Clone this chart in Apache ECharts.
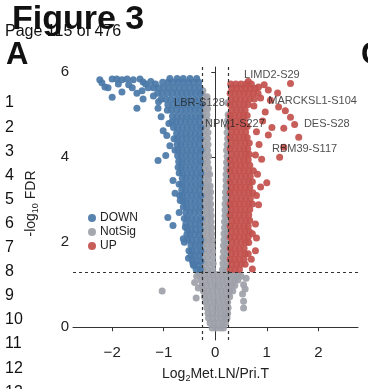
<!DOCTYPE html>
<html><head><meta charset="utf-8">
<script src="https://cdn.jsdelivr.net/npm/echarts@6/dist/echarts.min.js"></script>
<style>html,body{margin:0;padding:0;background:#fff}#c{width:368px;height:389px}</style>
</head><body><div id="c"></div>
<script>
// ---- axis ticks and thresholds ----
const xTicks = [-2, -1, 0, 1, 2];
const yTicks = [0, 2, 4, 6];
const fcCut = 0.263;      // log2(1.2)
const fdrCut = 1.301;     // -log10(0.05)

// ---- DOWN: dense band, rows of [y, x1, x2, ...] ----
const downRows = [
 [1.36,-0.29,-0.37],[1.45,-0.33,-0.42],[1.55,-0.28,-0.37,-0.44],[1.68,-0.31,-0.40,-0.47],
 [1.80,-0.28,-0.37,-0.46,-0.51],[1.93,-0.30,-0.39,-0.47],[2.05,-0.28,-0.37,-0.46,-0.53],
 [2.18,-0.31,-0.40,-0.49,-0.55],[2.30,-0.29,-0.38,-0.47,-0.54],[2.43,-0.30,-0.39,-0.48,-0.57],
 [2.56,-0.28,-0.37,-0.46,-0.55,-0.60],[2.70,-0.31,-0.40,-0.49,-0.57],[2.83,-0.29,-0.38,-0.47,-0.56,-0.62],
 [2.96,-0.30,-0.39,-0.48,-0.57,-0.63],[3.10,-0.28,-0.37,-0.46,-0.55,-0.64,-0.69],
 [3.23,-0.31,-0.40,-0.49,-0.58,-0.65],[3.36,-0.29,-0.38,-0.47,-0.56,-0.65,-0.70],
 [3.50,-0.30,-0.39,-0.48,-0.57,-0.64],[3.63,-0.28,-0.37,-0.46,-0.55,-0.64,-0.70],
 [3.76,-0.31,-0.40,-0.49,-0.58,-0.66,-0.72],[3.90,-0.29,-0.38,-0.47,-0.56,-0.65,-0.71],
 [4.03,-0.30,-0.39,-0.48,-0.57,-0.66,-0.73],[4.16,-0.28,-0.37,-0.46,-0.55,-0.64,-0.72,-0.78],
 [4.30,-0.31,-0.40,-0.49,-0.58,-0.67,-0.74],[4.43,-0.29,-0.38,-0.47,-0.56,-0.65,-0.74,-0.80],
 [4.56,-0.30,-0.39,-0.48,-0.57,-0.66,-0.75],[4.70,-0.28,-0.37,-0.46,-0.55,-0.64,-0.73,-0.81],
 [4.83,-0.31,-0.40,-0.49,-0.58,-0.67,-0.76,-0.84],[4.96,-0.29,-0.38,-0.47,-0.56,-0.65,-0.74,-0.83],
 [5.10,-0.30,-0.39,-0.48,-0.57,-0.66,-0.75,-0.85,-0.93],[5.23,-0.28,-0.37,-0.46,-0.55,-0.64,-0.73,-0.82,-0.92],
 [5.36,-0.31,-0.40,-0.49,-0.58,-0.67,-0.76,-0.86,-0.96,-1.05],
 [5.50,-0.29,-0.38,-0.47,-0.56,-0.65,-0.74,-0.83,-0.93,-1.03,-1.12],
 [5.63,-0.30,-0.40,-0.50,-0.60,-0.70,-0.80,-0.90,-1.00,-1.10,-1.20],
 [5.76,-0.32,-0.42,-0.52,-0.62,-0.72,-0.82,-0.92,-1.02],
 [5.85,-0.36,-0.49,-0.62,-0.74,-0.88]
];
// ---- DOWN: scattered points [x, y] ----
const downScatter = [
 [-2.24,5.82],[-2.00,5.84],[-1.91,5.84],[-1.81,5.82],[-1.71,5.84],[-1.59,5.82],[-1.46,5.84],[-1.40,5.77],
 [-2.14,5.65],[-2.08,5.63],[-1.81,5.53],[-2.00,5.41],[-1.61,5.63],[-1.42,5.56],[-1.30,5.63],[-1.16,5.72],
 [-1.20,5.44],[-1.40,5.37],[-1.52,5.50],[-1.52,5.15],[-1.11,5.15],[-1.01,4.62],[-0.90,4.79],[-0.96,4.04],
 [-1.11,3.92],[-0.94,4.51],[-0.88,4.27],[-0.82,3.45],[-0.68,2.98],[-0.78,3.15],[-0.92,2.58],[-0.82,2.39],
 [-0.62,2.08],[-0.60,2.00],[-0.43,1.49],[-0.52,1.62],[-0.58,2.35],[-0.70,2.70],[-1.25,5.78],[-1.35,5.72],
 [-1.68,5.70],[-1.88,5.72],[-2.20,5.75],[-1.10,5.30],[-1.05,4.95]
];

// ---- NotSig: rows [y, x1, x2, ...] ----
const notSigRows = [
 [-0.02,-0.06,0.02,0.10,0.16],[0.10,-0.10,-0.02,0.06,0.14,0.20],[0.22,-0.13,-0.05,0.03,0.11,0.19,0.23],
 [0.33,-0.14,-0.06,0.03,0.11,0.19,0.24],[0.46,-0.16,-0.07,0.02,0.10,0.18,0.25],
 [0.59,-0.19,-0.10,-0.01,0.08,0.16,0.24],[0.72,-0.21,-0.12,-0.03,0.06,0.14,0.22,0.28],
 [0.85,-0.23,-0.14,-0.05,0.04,0.12,0.20,0.28,0.34],[0.98,-0.26,-0.17,-0.08,0.00,0.08,0.16,0.24,0.32,0.38],
 [1.11,-0.28,-0.19,-0.10,-0.02,0.06,0.14,0.22,0.30,0.38,0.44],
 [1.24,-0.30,-0.21,-0.12,-0.04,0.04,0.12,0.20,0.28,0.36,0.44],
 [1.36,-0.24,-0.15,-0.05,0.14,0.22],[1.50,-0.22,-0.13,-0.04,0.15,0.24],[1.64,-0.24,-0.15,-0.05,0.15,0.22],
 [1.78,-0.22,-0.13,-0.05,0.16,0.24],[1.92,-0.24,-0.15,-0.06,0.16,0.22],[2.06,-0.22,-0.13,-0.06,0.17,0.24],
 [2.20,-0.24,-0.15,-0.07,0.17,0.23],[2.34,-0.22,-0.14,-0.07,0.18,0.24],[2.48,-0.24,-0.16,-0.08,0.18,0.23],
 [2.62,-0.22,-0.14,-0.08,0.19,0.25],[2.76,-0.24,-0.16,-0.09,0.19,0.24],[2.90,-0.22,-0.14,-0.09,0.19,0.25],
 [3.04,-0.24,-0.16,-0.10,0.20,0.24],[3.18,-0.22,-0.14,-0.09,0.20,0.25],[3.32,-0.24,-0.16,-0.10,0.21,0.24],
 [3.46,-0.22,-0.13,0.21,0.25],[3.60,-0.24,-0.15,-0.11,0.21,0.24],[3.74,-0.22,-0.13,0.22,0.25],
 [3.88,-0.24,-0.15,0.22,0.24],[4.02,-0.22,-0.13,0.23],[4.16,-0.24,-0.15,0.22],[4.30,-0.22,-0.14,0.23],
 [4.44,-0.24,-0.15,0.24],[4.58,-0.22,-0.14,0.23],[4.72,-0.24,-0.16,0.24],[4.86,-0.22,-0.15,0.24],
 [5.00,-0.24,-0.16,0.25],[5.14,-0.22,-0.15],[5.28,-0.24,-0.17,0.24],[5.42,-0.22,-0.16],[5.56,-0.24]
];
const notSigScatter = [
 [-1.03,0.85],[-0.37,0.69],[-0.33,0.92],[0.55,1.00],[0.58,0.90],[0.53,0.78],[0.55,0.61],[0.55,0.45],
 [0.60,1.15],[0.50,1.20],[-0.36,1.20],[-0.40,1.05]
];

// ---- UP: rows [y, x1, x2, ...] ----
const upRows = [
 [1.36,0.29,0.38,0.47],[1.48,0.32,0.41,0.50,0.58],[1.60,0.29,0.38,0.47,0.56],[1.73,0.31,0.40,0.49,0.58,0.64],
 [1.86,0.29,0.38,0.47,0.56],[1.99,0.32,0.41,0.50,0.59,0.65],[2.12,0.29,0.38,0.47,0.56,0.64],
 [2.25,0.31,0.40,0.49,0.58,0.66],[2.38,0.29,0.38,0.47,0.56,0.64],[2.51,0.32,0.41,0.50,0.59,0.67],
 [2.64,0.29,0.38,0.47,0.56,0.65],[2.77,0.31,0.40,0.49,0.58,0.67],[2.90,0.29,0.38,0.47,0.56,0.65,0.72],
 [3.03,0.32,0.41,0.50,0.59,0.68],[3.16,0.29,0.38,0.47,0.56,0.65,0.73],[3.29,0.31,0.40,0.49,0.58,0.67],
 [3.42,0.29,0.38,0.47,0.56,0.65,0.72],[3.55,0.32,0.41,0.50,0.59,0.68],[3.68,0.29,0.38,0.47,0.56,0.65,0.74],
 [3.81,0.31,0.40,0.49,0.58,0.67],[3.94,0.29,0.38,0.47,0.56,0.64],[4.07,0.32,0.41,0.50,0.59,0.66],
 [4.20,0.29,0.38,0.47,0.56,0.63],[4.33,0.31,0.40,0.49,0.58,0.66],[4.46,0.29,0.38,0.47,0.56,0.62],
 [4.59,0.32,0.41,0.50,0.59],[4.72,0.29,0.38,0.47,0.56,0.62],[4.85,0.31,0.40,0.49,0.57],
 [4.98,0.29,0.38,0.47,0.55,0.62],[5.11,0.32,0.41,0.50,0.58],[5.24,0.29,0.38,0.47,0.56,0.64],
 [5.37,0.31,0.40,0.49,0.58,0.67,0.76],[5.50,0.29,0.38,0.47,0.56,0.65,0.74,0.83],
 [5.62,0.32,0.41,0.50,0.59,0.68,0.77],[5.72,0.30,0.40,0.50,0.60,0.70]
];
const upScatter = [
 [0.64,5.78],[0.84,5.65],[1.03,5.58],[1.21,5.51],[1.46,5.73],[0.88,5.39],[1.07,5.34],[1.23,5.18],
 [1.46,4.94],[1.36,5.09],[0.97,5.06],[1.33,4.68],[1.54,4.77],[1.62,4.47],[1.03,4.52],[1.10,4.70],
 [1.33,4.23],[1.25,4.00],[0.92,4.85],[0.85,4.30],[0.90,3.95],[0.82,3.60],[0.88,3.30],[1.00,3.40],
 [0.84,2.88],[0.78,2.43],[0.72,2.20],[0.78,1.80],[0.72,1.37],[0.95,5.70],[0.75,5.20],[0.80,4.60],
 [0.78,4.05],[0.80,3.10],[0.80,2.10],[0.70,1.60]
];

// ---- annotated sites ----
const siteNames = ['LIMD2-S29','LBR-S128','MARCKSL1-S104','NPM1-S227','DES-S28','RBM39-S117'];
const siteX = [0.56, -0.80, 1.03, -0.20, 1.72, 1.10];
const siteY = [5.94, 5.28, 5.31, 4.77, 4.79, 4.20];

const fromRows = rows => rows.flatMap(r => r.slice(1).map(x => [x, r[0]]));
const downData = fromRows(downRows).concat(downScatter);
const notSigData = fromRows(notSigRows).concat(notSigScatter);
const upData = fromRows(upRows).concat(upScatter);
const siteData = siteNames.map((n, i) => ({name: n, value: [siteX[i], siteY[i]]}));

const BLUE = '#4a78a8', RED = '#c2504c', GRAY = '#9ea1a9';
const FONT = 'Liberation Sans, Arial, sans-serif';

const lineNums = ['1','2','3','4','5','6','7','8','9','10','11','12','13'];
const graphics = [
  {type:'text', left:12, top:3, style:{text:'Figure 3', font:'bold 34px ' + FONT, fill:'#111'}},
  {type:'text', left:5, top:24, style:{text:'Page 115 of 476', font:'16px ' + FONT, fill:'#111'}},
  {type:'text', left:6, top:40, style:{text:'A', font:'bold 31px ' + FONT, fill:'#111'}},
  {type:'text', left:361, top:40, style:{text:'C', font:'bold 31px ' + FONT, fill:'#111'}}
];
lineNums.forEach((t, i) => graphics.push({type:'text', left:5, top: 95 + i * 24.1,
  style:{text:t, font:'16px ' + FONT, fill:'#111'}}));

const chart = echarts.init(document.getElementById('c'), null, {renderer:'canvas'});
chart.setOption({
  animation:false,
  backgroundColor:'#fff',
  textStyle:{fontFamily:FONT},
  grid:{left:73, right:10, top:67, bottom:49, outerBoundsMode:'none'},
  legend:{
    data:['DOWN','NotSig','UP'], orient:'vertical', left:88, top:212, padding:0,
    itemWidth:8, itemHeight:8, itemGap:2, icon:'circle',
    textStyle:{fontSize:12, color:'#222', padding:[0,0,0,-1]}
  },
  xAxis:{
    type:'value', min:-2.76, max:2.77,
    name:'Log{s|2}Met.LN/Pri.T', nameLocation:'middle', nameGap:26,
    nameTextStyle:{fontSize:14, color:'#222', rich:{s:{fontSize:9, verticalAlign:'bottom', padding:[8,0,0,0]}}},
    axisLine:{lineStyle:{color:'#333', width:1}},
    axisTick:{length:4, lineStyle:{color:'#333'}, customValues:xTicks},
    axisLabel:{fontSize:15, color:'#222', margin:5, customValues:xTicks,
      formatter:v => String(v).replace('-', '\u2212')},
    splitLine:{show:false}
  },
  yAxis:{
    type:'value', min:-0.3, max:6.12,
    name:'-log{s|10} FDR', nameLocation:'middle', nameGap:33, nameRotate:90,
    nameTextStyle:{fontSize:14, color:'#222', rich:{s:{fontSize:9, verticalAlign:'bottom', padding:[8,0,0,0]}}},
    axisLine:{show:true, lineStyle:{color:'#333', width:1}},
    axisTick:{show:true, length:4, lineStyle:{color:'#333'}, customValues:yTicks},
    axisLabel:{fontSize:15, color:'#222', margin:4, customValues:yTicks},
    splitLine:{show:false}
  },
  graphic:graphics,
  series:[
    {name:'NotSig', type:'scatter', data:notSigData, symbolSize:7, itemStyle:{color:GRAY, opacity:0.92}, z:2},
    {name:'DOWN', type:'scatter', data:downData, symbolSize:7, itemStyle:{color:BLUE, opacity:0.92}, z:3},
    {name:'UP', type:'scatter', data:upData, symbolSize:7, itemStyle:{color:RED, opacity:0.92}, z:4,
      markLine:{silent:true, symbol:'none', label:{show:false}, z:10,
        lineStyle:{type:[3,3], color:'#333', width:1.2},
        data:[{xAxis:-fcCut},{xAxis:fcCut},{yAxis:fdrCut}]}},
    {name:'sites', type:'scatter', data:siteData, symbolSize:0, z:11,
      label:{show:true, position:'right', distance:0, formatter:'{b}', fontSize:11, color:'#222'}}
  ]
});
</script>
</body></html>
